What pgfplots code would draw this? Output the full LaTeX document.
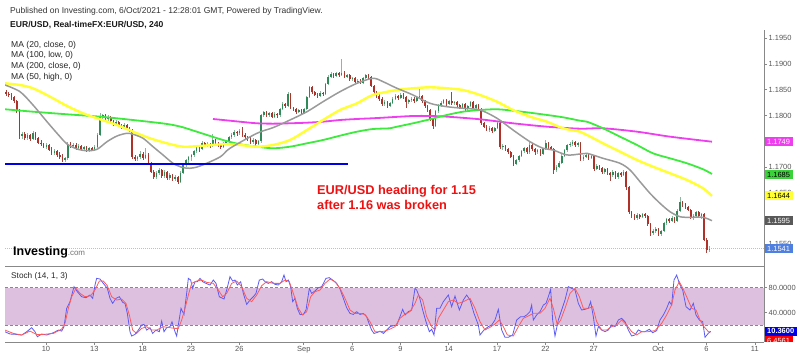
\documentclass[border=0pt]{standalone}
\usepackage{fontspec}
\setmainfont{Liberation Sans}
\usepackage{pgfplots}
\usepackage{pgfplotstable}
\pgfplotsset{compat=1.18}
\definecolor{upbody}{HTML}{2E8B57}
\definecolor{upwick}{HTML}{8DB89D}
\definecolor{dnbody}{HTML}{B0302A}
\definecolor{dnwick}{HTML}{A04640}
\definecolor{maA}{HTML}{9A9A9A}
\definecolor{maB}{HTML}{FFFF33}
\definecolor{maC}{HTML}{3FEA3F}
\definecolor{maD}{HTML}{EE3FEE}
\definecolor{axgray}{HTML}{888888}
\definecolor{lblgray}{HTML}{555555}
\definecolor{band}{HTML}{DDC0E0}
\definecolor{stk}{HTML}{5A5AF5}
\definecolor{std}{HTML}{FF5A5A}
\definecolor{lastline}{HTML}{A9C3EE}
\definecolor{lastbox}{HTML}{4F7FE0}
\definecolor{annred}{HTML}{EE1111}
\definecolor{supblue}{HTML}{0000E6}

\pgfplotstableread{
o h l c
1.1846 1.1850 1.1838 1.1842
1.1842 1.1846 1.1835 1.1839
1.1839 1.1843 1.1831 1.1835
1.1835 1.1838 1.1824 1.1828
1.1828 1.1831 1.1804 1.1808
1.1808 1.1812 1.1755 1.1760
1.1760 1.1768 1.1754 1.1764
1.1764 1.1767 1.1753 1.1757
1.1757 1.1765 1.1752 1.1762
1.1762 1.1764 1.1750 1.1754
1.1754 1.1770 1.1752 1.1766
1.1766 1.1768 1.1752 1.1756
1.1756 1.1759 1.1744 1.1747
1.1747 1.1752 1.1740 1.1744
1.1744 1.1746 1.1736 1.1739
1.1739 1.1746 1.1735 1.1742
1.1742 1.1744 1.1730 1.1733
1.1733 1.1738 1.1724 1.1727
1.1727 1.1735 1.1723 1.1731
1.1731 1.1733 1.1720 1.1723
1.1723 1.1728 1.1716 1.1720
1.1720 1.1726 1.1710 1.1714
1.1714 1.1720 1.1709 1.1717
1.1717 1.1748 1.1714 1.1744
1.1744 1.1749 1.1737 1.1740
1.1740 1.1747 1.1736 1.1743
1.1743 1.1746 1.1733 1.1736
1.1736 1.1744 1.1733 1.1741
1.1741 1.1743 1.1731 1.1734
1.1734 1.1741 1.1731 1.1738
1.1738 1.1740 1.1729 1.1732
1.1732 1.1739 1.1728 1.1736
1.1736 1.1738 1.1730 1.1733
1.1733 1.1742 1.1731 1.1739
1.1739 1.1766 1.1737 1.1762
1.1762 1.1805 1.1760 1.1798
1.1798 1.1803 1.1792 1.1800
1.1800 1.1802 1.1790 1.1793
1.1793 1.1800 1.1789 1.1797
1.1797 1.1799 1.1786 1.1789
1.1789 1.1792 1.1780 1.1784
1.1784 1.1791 1.1781 1.1788
1.1788 1.1790 1.1777 1.1780
1.1780 1.1784 1.1774 1.1777
1.1777 1.1785 1.1775 1.1782
1.1782 1.1784 1.1771 1.1774
1.1774 1.1778 1.1767 1.1770
1.1770 1.1773 1.1716 1.1720
1.1720 1.1724 1.1711 1.1715
1.1715 1.1722 1.1712 1.1719
1.1719 1.1730 1.1716 1.1726
1.1726 1.1728 1.1714 1.1718
1.1718 1.1736 1.1715 1.1724
1.1724 1.1727 1.1703 1.1706
1.1706 1.1709 1.1688 1.1691
1.1691 1.1694 1.1676 1.1680
1.1680 1.1692 1.1677 1.1688
1.1688 1.1697 1.1685 1.1694
1.1694 1.1696 1.1679 1.1682
1.1682 1.1693 1.1679 1.1690
1.1690 1.1692 1.1675 1.1678
1.1678 1.1688 1.1675 1.1685
1.1685 1.1687 1.1673 1.1676
1.1676 1.1684 1.1672 1.1680
1.1680 1.1682 1.1667 1.1671
1.1671 1.1692 1.1669 1.1689
1.1689 1.1706 1.1686 1.1703
1.1703 1.1716 1.1700 1.1713
1.1713 1.1722 1.1708 1.1719
1.1719 1.1726 1.1712 1.1723
1.1723 1.1733 1.1719 1.1730
1.1730 1.1742 1.1727 1.1739
1.1739 1.1741 1.1729 1.1734
1.1734 1.1750 1.1732 1.1747
1.1747 1.1749 1.1738 1.1742
1.1742 1.1748 1.1739 1.1745
1.1745 1.1747 1.1736 1.1740
1.1740 1.1764 1.1738 1.1752
1.1752 1.1755 1.1741 1.1745
1.1745 1.1748 1.1739 1.1743
1.1743 1.1746 1.1735 1.1738
1.1738 1.1748 1.1736 1.1745
1.1745 1.1753 1.1742 1.1750
1.1750 1.1761 1.1747 1.1758
1.1758 1.1765 1.1754 1.1762
1.1762 1.1771 1.1758 1.1768
1.1768 1.1770 1.1760 1.1765
1.1765 1.1774 1.1762 1.1770
1.1770 1.1778 1.1759 1.1762
1.1762 1.1765 1.1754 1.1758
1.1758 1.1761 1.1751 1.1755
1.1755 1.1758 1.1744 1.1748
1.1748 1.1756 1.1745 1.1752
1.1752 1.1754 1.1741 1.1745
1.1745 1.1753 1.1742 1.1750
1.1750 1.1803 1.1747 1.1800
1.1800 1.1809 1.1797 1.1806
1.1806 1.1808 1.1797 1.1801
1.1801 1.1807 1.1798 1.1804
1.1804 1.1806 1.1795 1.1798
1.1798 1.1806 1.1796 1.1803
1.1803 1.1805 1.1796 1.1800
1.1800 1.1815 1.1798 1.1812
1.1812 1.1827 1.1810 1.1822
1.1822 1.1824 1.1814 1.1818
1.1818 1.1846 1.1816 1.1842
1.1842 1.1844 1.1812 1.1815
1.1815 1.1817 1.1808 1.1812
1.1812 1.1814 1.1803 1.1807
1.1807 1.1813 1.1804 1.1811
1.1811 1.1813 1.1801 1.1805
1.1805 1.1814 1.1802 1.1812
1.1812 1.1838 1.1810 1.1836
1.1836 1.1858 1.1834 1.1855
1.1855 1.1857 1.1842 1.1845
1.1845 1.1848 1.1837 1.1840
1.1840 1.1843 1.1834 1.1838
1.1838 1.1847 1.1836 1.1844
1.1844 1.1846 1.1838 1.1842
1.1842 1.1864 1.1840 1.1862
1.1862 1.1878 1.1859 1.1875
1.1875 1.1884 1.1873 1.1880
1.1880 1.1882 1.1872 1.1876
1.1876 1.1885 1.1874 1.1882
1.1882 1.1884 1.1875 1.1878
1.1878 1.1909 1.1876 1.1883
1.1883 1.1886 1.1872 1.1875
1.1875 1.1880 1.1873 1.1878
1.1878 1.1880 1.1868 1.1870
1.1870 1.1875 1.1867 1.1872
1.1872 1.1874 1.1863 1.1866
1.1866 1.1871 1.1864 1.1868
1.1868 1.1870 1.1861 1.1864
1.1864 1.1875 1.1862 1.1872
1.1872 1.1881 1.1870 1.1878
1.1878 1.1880 1.1871 1.1875
1.1875 1.1877 1.1855 1.1858
1.1858 1.1860 1.1842 1.1845
1.1845 1.1848 1.1834 1.1838
1.1838 1.1841 1.1829 1.1832
1.1832 1.1835 1.1819 1.1822
1.1822 1.1830 1.1818 1.1826
1.1826 1.1828 1.1815 1.1818
1.1818 1.1827 1.1816 1.1824
1.1824 1.1835 1.1822 1.1832
1.1832 1.1841 1.1830 1.1838
1.1838 1.1840 1.1831 1.1834
1.1834 1.1843 1.1832 1.1840
1.1840 1.1843 1.1833 1.1836
1.1836 1.1838 1.1815 1.1826
1.1826 1.1833 1.1823 1.1830
1.1830 1.1835 1.1827 1.1833
1.1833 1.1835 1.1825 1.1828
1.1828 1.1837 1.1826 1.1835
1.1835 1.1853 1.1833 1.1838
1.1838 1.1840 1.1825 1.1828
1.1828 1.1830 1.1815 1.1818
1.1818 1.1820 1.1806 1.1810
1.1810 1.1812 1.1790 1.1793
1.1793 1.1796 1.1773 1.1780
1.1780 1.1810 1.1777 1.1808
1.1808 1.1823 1.1805 1.1820
1.1820 1.1828 1.1817 1.1825
1.1825 1.1832 1.1822 1.1830
1.1830 1.1833 1.1819 1.1822
1.1822 1.1830 1.1820 1.1828
1.1828 1.1846 1.1821 1.1824
1.1824 1.1829 1.1820 1.1826
1.1826 1.1828 1.1817 1.1820
1.1820 1.1823 1.1812 1.1815
1.1815 1.1825 1.1813 1.1822
1.1822 1.1824 1.1809 1.1812
1.1812 1.1821 1.1810 1.1818
1.1818 1.1829 1.1816 1.1826
1.1826 1.1828 1.1813 1.1815
1.1815 1.1823 1.1812 1.1820
1.1820 1.1822 1.1809 1.1812
1.1812 1.1815 1.1782 1.1785
1.1785 1.1788 1.1775 1.1778
1.1778 1.1781 1.1769 1.1772
1.1772 1.1779 1.1768 1.1776
1.1776 1.1778 1.1766 1.1770
1.1770 1.1778 1.1767 1.1775
1.1775 1.1788 1.1773 1.1785
1.1785 1.1788 1.1735 1.1738
1.1738 1.1744 1.1732 1.1740
1.1740 1.1742 1.1731 1.1735
1.1735 1.1737 1.1725 1.1728
1.1728 1.1731 1.1717 1.1720
1.1720 1.1723 1.1702 1.1706
1.1706 1.1716 1.1703 1.1713
1.1713 1.1724 1.1710 1.1722
1.1722 1.1733 1.1719 1.1730
1.1730 1.1739 1.1727 1.1736
1.1736 1.1738 1.1725 1.1728
1.1728 1.1748 1.1726 1.1742
1.1742 1.1745 1.1731 1.1735
1.1735 1.1737 1.1724 1.1728
1.1728 1.1735 1.1725 1.1732
1.1732 1.1734 1.1722 1.1725
1.1725 1.1737 1.1723 1.1734
1.1734 1.1752 1.1732 1.1746
1.1746 1.1748 1.1735 1.1738
1.1738 1.1741 1.1732 1.1735
1.1735 1.1737 1.1686 1.1694
1.1694 1.1703 1.1690 1.1700
1.1700 1.1711 1.1697 1.1708
1.1708 1.1725 1.1705 1.1722
1.1722 1.1735 1.1719 1.1732
1.1732 1.1745 1.1729 1.1742
1.1742 1.1749 1.1738 1.1745
1.1745 1.1752 1.1741 1.1748
1.1748 1.1750 1.1738 1.1742
1.1742 1.1749 1.1739 1.1746
1.1746 1.1748 1.1712 1.1715
1.1715 1.1723 1.1712 1.1720
1.1720 1.1727 1.1717 1.1724
1.1724 1.1726 1.1714 1.1718
1.1718 1.1725 1.1715 1.1722
1.1722 1.1724 1.1692 1.1696
1.1696 1.1705 1.1693 1.1702
1.1702 1.1704 1.1694 1.1698
1.1698 1.1700 1.1686 1.1690
1.1690 1.1698 1.1687 1.1695
1.1695 1.1697 1.1684 1.1688
1.1688 1.1690 1.1672 1.1684
1.1684 1.1693 1.1681 1.1690
1.1690 1.1692 1.1676 1.1680
1.1680 1.1691 1.1677 1.1688
1.1688 1.1690 1.1680 1.1685
1.1685 1.1693 1.1683 1.1690
1.1690 1.1692 1.1656 1.1660
1.1660 1.1663 1.1608 1.1612
1.1612 1.1614 1.1600 1.1605
1.1605 1.1608 1.1596 1.1600
1.1600 1.1610 1.1597 1.1607
1.1607 1.1609 1.1598 1.1602
1.1602 1.1611 1.1600 1.1608
1.1608 1.1610 1.1600 1.1604
1.1604 1.1606 1.1585 1.1588
1.1588 1.1590 1.1566 1.1572
1.1572 1.1580 1.1568 1.1576
1.1576 1.1584 1.1572 1.1580
1.1580 1.1582 1.1565 1.1569
1.1569 1.1578 1.1566 1.1575
1.1575 1.1592 1.1573 1.1590
1.1590 1.1600 1.1587 1.1598
1.1598 1.1600 1.1590 1.1594
1.1594 1.1604 1.1592 1.1601
1.1601 1.1603 1.1590 1.1594
1.1594 1.1618 1.1592 1.1615
1.1615 1.1641 1.1613 1.1632
1.1632 1.1634 1.1622 1.1627
1.1627 1.1629 1.1619 1.1622
1.1622 1.1624 1.1614 1.1617
1.1617 1.1619 1.1598 1.1601
1.1601 1.1608 1.1597 1.1605
1.1605 1.1614 1.1603 1.1612
1.1612 1.1614 1.1600 1.1604
1.1604 1.1611 1.1598 1.1608
1.1608 1.1610 1.1556 1.1558
1.1558 1.1561 1.1533 1.1538
1.1538 1.1546 1.1535 1.1541
}\candles

\begin{document}
\begin{tikzpicture}
\useasboundingbox (0,0) rectangle (800bp,357bp);

% ---------- header texts ----------
\node[anchor=west, inner sep=0, font=\fontsize{8.55}{10}\selectfont, text=black!80] at (10bp,346bp) {Published on Investing.com, 6/Oct/2021 - 12:28:01 GMT, Powered by TradingView.};
\node[anchor=west, inner sep=0, font=\bfseries\fontsize{8.6}{10}\selectfont, text=black!90] at (10bp,332bp) {EUR/USD, Real-timeFX:EUR/USD, 240};
\node[anchor=west, inner sep=0, font=\fontsize{8.6}{10}\selectfont, text=black!85] at (11bp,312bp) {MA (20, close, 0)};
\node[anchor=west, inner sep=0, font=\fontsize{8.6}{10}\selectfont, text=black!85] at (11bp,301.3bp) {MA (100, low, 0)};
\node[anchor=west, inner sep=0, font=\fontsize{8.6}{10}\selectfont, text=black!85] at (11bp,290.7bp) {MA (200, close, 0)};
\node[anchor=west, inner sep=0, font=\fontsize{8.6}{10}\selectfont, text=black!85] at (11bp,280bp) {MA (50, high, 0)};

% ---------- main price panel ----------
\begin{axis}[
  at={(5bp,91bp)}, anchor=south west, scale only axis,
  width=759bp, height=236bp,
  xmin=-2.545, xmax=44.569, ymin=1.15072, ymax=1.19663,
  axis x line=none, axis y line*=right,
  axis line style={draw=axgray, line width=0.8bp},
  ytick={1.155,1.165,1.17,1.18,1.185,1.19,1.195},
  extra y ticks={1.16,1.175}, extra y tick labels={},
  scaled y ticks=false,
  /pgf/number format/assume math mode=true,
  yticklabel style={font=\fontsize{7.5}{9}\selectfont, text=lblgray, inner sep=1.5bp,
     /pgf/number format/fixed, /pgf/number format/fixed zerofill, /pgf/number format/precision=4},
  tick align=outside, major tick length=3bp, tick style={draw=axgray, line width=0.6bp},
  clip mode=individual,
]
% last price dotted line
\addplot[lastline, line width=1bp, dash pattern=on 1bp off 1bp, forget plot] coordinates {(-2.545,1.1541) (44.569,1.1541)};

% wicks
\addplot[draw=none, mark=none, forget plot,
  restrict expr to domain={\thisrow{c}-\thisrow{o}}{0:1},
  error bars/.cd, y dir=both, y explicit, error mark=none,
  error bar style={draw=upwick, line width=0.7bp}]
  table[x expr=\coordindex/6-2.48, y=c, y error plus expr=\thisrow{h}-\thisrow{c}, y error minus expr=\thisrow{c}-\thisrow{l}] {\candles};
\addplot[draw=none, mark=none, forget plot,
  restrict expr to domain={\thisrow{c}-\thisrow{o}}{-1:0},
  error bars/.cd, y dir=both, y explicit, error mark=none,
  error bar style={draw=dnwick, line width=0.7bp}]
  table[x expr=\coordindex/6-2.48, y=c, y error plus expr=\thisrow{h}-\thisrow{c}, y error minus expr=\thisrow{c}-\thisrow{l}] {\candles};
% bodies
\addplot[draw=none, mark=none, forget plot,
  restrict expr to domain={\thisrow{c}-\thisrow{o}}{0:1},
  error bars/.cd, y dir=minus, y explicit, error mark=none,
  error bar style={draw=upbody, line width=1.6bp}]
  table[x expr=\coordindex/6-2.48, y=c, y error minus expr=\thisrow{c}-\thisrow{o}] {\candles};
\addplot[draw=none, mark=none, forget plot,
  restrict expr to domain={\thisrow{c}-\thisrow{o}}{-1:0},
  error bars/.cd, y dir=plus, y explicit, error mark=none,
  error bar style={draw=dnbody, line width=1.6bp}]
  table[x expr=\coordindex/6-2.48, y=c, y error plus expr=\thisrow{o}-\thisrow{c}] {\candles};

% MA 200 close (magenta)
\addplot[maD, line width=1.8bp, smooth, tension=0.5] coordinates {
(10.366,1.17932) (12.042,1.17879) (13.098,1.17848) (14.091,1.17841) (15.146,1.17848) (16.201,1.17860) (17.194,1.17879) (18.250,1.17912) (19.305,1.17932) (20.298,1.17946) (21.353,1.17965) (22.781,1.17990) (23.836,1.17990) (24.891,1.17977) (26.940,1.17926) (28.988,1.17848) (31.099,1.17782) (33.147,1.17743) (34.575,1.17751) (36.685,1.17685) (38.734,1.17588) (41.341,1.17490)};
% MA 100 low (green)
\addplot[maC, line width=1.8bp, smooth, tension=0.5] coordinates {
(-2.545,1.18121) (-0.807,1.18074) (1.304,1.18023) (3.352,1.17977) (5.400,1.17912) (7.511,1.17835) (8.504,1.17771) (8.939,1.17727) (9.994,1.17621) (10.987,1.17523) (12.042,1.17440) (13.098,1.17393) (14.091,1.17362) (15.146,1.17393) (16.201,1.17459) (17.194,1.17523) (18.250,1.17607) (19.305,1.17685) (20.298,1.17737) (21.353,1.17751) (21.788,1.17782) (22.781,1.17848) (23.836,1.17926) (24.891,1.18010) (25.885,1.18074) (26.940,1.18107) (27.995,1.18121) (28.988,1.18093) (30.043,1.18054) (31.099,1.18010) (32.092,1.17965) (33.147,1.17899) (33.582,1.17879) (34.575,1.17751) (35.630,1.17588) (36.685,1.17426) (37.679,1.17264) (38.734,1.17167) (39.789,1.17070) (40.782,1.16954) (41.341,1.16862)};
% MA 50 high (yellow)
\addplot[maB, line width=2.4bp, smooth, tension=0.5] coordinates {
(-2.545,1.18626) (-1.614,1.18593) (-0.807,1.18529) (0.248,1.18366) (1.304,1.18185) (2.297,1.18043) (3.352,1.17926) (4.407,1.17815) (5.400,1.17685) (6.456,1.17557) (7.511,1.17459) (8.504,1.17393) (9.559,1.17407) (10.987,1.17440) (12.042,1.17426) (13.098,1.17393) (14.091,1.17426) (15.146,1.17523) (16.201,1.17718) (17.194,1.17912) (18.250,1.18107) (19.305,1.18237) (20.298,1.18399) (21.788,1.18496) (22.781,1.18529) (23.836,1.18549) (24.891,1.18529) (25.885,1.18496) (26.940,1.18399) (27.995,1.18268) (28.988,1.18107) (30.043,1.17977) (31.099,1.17879) (32.092,1.17751) (33.147,1.17685) (33.582,1.17621) (34.575,1.17459) (35.630,1.17296) (36.685,1.17134) (37.679,1.17004) (38.734,1.16876) (39.789,1.16745) (40.782,1.16584) (41.341,1.16434)};
% MA 20 close (gray)
\addplot[maA, line width=1.5bp, smooth, tension=0.5] coordinates {
(-2.545,1.18593) (-1.614,1.18463) (-0.807,1.18204) (0.062,1.17879) (0.869,1.17588) (1.304,1.17446) (1.924,1.17348) (2.545,1.17315) (3.166,1.17342) (3.787,1.17490) (4.407,1.17601) (5.028,1.17654) (5.400,1.17634) (6.021,1.17557) (6.642,1.17393) (7.263,1.17232) (7.883,1.17070) (8.442,1.16992) (8.939,1.16973) (9.559,1.17017) (10.801,1.17193) (11.421,1.17362) (13.098,1.17654) (14.091,1.17763) (15.146,1.17912) (16.201,1.18074) (17.194,1.18268) (18.250,1.18463) (19.305,1.18626) (20.298,1.18724) (20.919,1.18658) (21.353,1.18593) (21.788,1.18529) (22.781,1.18399) (23.836,1.18237) (24.891,1.18171) (25.885,1.18140) (26.940,1.18107) (27.995,1.17946) (28.988,1.17718) (30.043,1.17490) (30.850,1.17362) (31.471,1.17329) (32.340,1.17232) (33.147,1.17251) (33.582,1.17264) (34.575,1.17167) (35.630,1.17070) (36.251,1.16940) (36.872,1.16712) (37.492,1.16486) (38.113,1.16292) (38.734,1.16128) (39.354,1.16031) (39.975,1.16019) (40.782,1.16019) (41.341,1.15953)};
% support line
\addplot[supblue, line width=2.2bp] coordinates {(-2.545,1.1705) (18.75,1.1705)};

\draw[axgray, line width=0.8bp] (rel axis cs:0,0) -- (rel axis cs:1,0);

\coordinate (bD) at (axis cs:44.569,1.1749);
\coordinate (bC) at (axis cs:44.569,1.1685);
\coordinate (bB) at (axis cs:44.569,1.1644);
\coordinate (bA) at (axis cs:44.569,1.1595);
\coordinate (bL) at (axis cs:44.569,1.1541);
\end{axis}

% annotation and logo
\node[anchor=west, inner sep=0, align=left, text=annred, font=\bfseries\fontsize{12.8}{15}\selectfont] at (317bp,159.5bp) {EUR/USD heading for 1.15\\after 1.16 was broken};
\node[anchor=west, inner sep=0, font=\bfseries\fontsize{12.5}{13}\selectfont] at (13bp,105bp) {Investing\fontsize{8}{9}\selectfont\mdseries\textcolor{black!55}{.com}};

% price boxes
\tikzset{pbox/.style={anchor=west, xshift=0.5bp, inner xsep=2.5bp, inner ysep=0bp, minimum height=9bp, font=\fontsize{7.5}{9}\selectfont}}
\node[pbox, fill=maD, text=white] at (bD) {1.1749};
\node[pbox, fill=maC!90!black, text=black] at (bC) {1.1685};
\node[pbox, fill=maB, text=black] at (bB) {1.1644};
\node[pbox, fill=black!65, text=white] at (bA) {1.1595};
\node[pbox, fill=lastbox, text=white] at (bL) {1.1541};

% ---------- stochastic panel ----------
\begin{axis}[
  at={(5bp,15bp)}, anchor=south west, scale only axis,
  width=759bp, height=76bp,
  xmin=-2.545, xmax=44.569, ymin=-6.6, ymax=114.6,
  axis x line*=bottom, axis y line*=right,
  axis line style={draw=axgray, line width=0.8bp},
  xtick={0,3,6,9,12,16,19,22,25,28,31,34,38,41,44},
  xticklabels={10,13,18,23,26,Sep,6,9,14,17,22,27,Oct,6,11},
  ytick={40,80},
  /pgf/number format/assume math mode=true,
  yticklabel style={font=\fontsize{7.5}{9}\selectfont, text=lblgray, inner sep=1.5bp,
     /pgf/number format/fixed, /pgf/number format/fixed zerofill, /pgf/number format/precision=4},
  xticklabel style={font=\fontsize{7.5}{9}\selectfont, text=lblgray, inner sep=1.5bp},
  tick align=outside, major tick length=3bp, tick style={draw=axgray, line width=0.6bp},
  clip mode=individual,
]
\fill[band] (axis cs:-2.545,20) rectangle (axis cs:44.569,80);
\draw[axgray, line width=0.7bp, dash pattern=on 3bp off 2bp] (axis cs:-2.545,20) -- (axis cs:44.569,20);
\draw[axgray, line width=0.7bp, dash pattern=on 3bp off 2bp] (axis cs:-2.545,80) -- (axis cs:44.569,80);
\draw[axgray, line width=0.8bp] (rel axis cs:0,1) -- (rel axis cs:1,1);

% %K
\addplot[stk, line width=0.8bp] coordinates {
(-2.545,9.8) (-2.235,6.1) (-1.821,5.5) (-1.510,4.5) (-1.200,9.8) (-0.890,16.2) (-0.683,9.8) (-0.538,1.8) (-0.269,6.1) (0.041,4.5) (0.455,8.2) (0.766,12.4) (0.972,10.8) (1.117,17.8) (1.283,47.0) (1.490,57.7) (1.738,81.6) (1.945,73.6) (2.214,65.6) (2.483,64.0) (2.731,68.3) (2.897,63.0) (3.042,84.3) (3.145,94.9) (3.352,93.8) (3.559,86.9) (3.807,78.9) (3.973,63.0) (4.138,55.0) (4.345,63.0) (4.552,65.6) (4.759,56.6) (4.904,55.0) (5.049,39.0) (5.214,9.8) (5.318,2.9) (5.524,5.5) (5.731,12.4) (5.938,20.4) (6.083,21.5) (6.249,12.4) (6.456,16.2) (6.621,7.1) (6.828,12.4) (7.035,9.8) (7.180,26.8) (7.325,9.8) (7.490,16.2) (7.697,17.8) (7.821,25.7) (8.007,9.8) (8.111,2.9) (8.214,20.4) (8.380,47.0) (8.566,37.4) (8.732,71.0) (8.835,94.9) (8.980,92.2) (9.104,78.9) (9.249,89.6) (9.394,89.6) (9.559,94.9) (9.725,89.6) (9.932,86.9) (10.180,84.3) (10.387,92.2) (10.553,86.9) (10.759,65.6) (11.049,61.9) (11.215,76.3) (11.421,97.6) (11.587,90.6) (11.732,92.2) (11.877,84.3) (12.084,89.6) (12.249,71.0) (12.456,53.4) (12.663,60.3) (12.870,65.6) (13.035,71.0) (13.242,92.2) (13.449,93.8) (13.594,89.6) (13.801,86.9) (14.008,89.6) (14.215,85.3) (14.422,84.3) (14.629,89.6) (14.773,100.2) (14.898,89.6) (15.042,92.2) (15.187,81.6) (15.311,57.7) (15.456,63.0) (15.601,47.0) (15.767,37.4) (15.974,37.4) (16.139,44.4) (16.346,78.9) (16.491,71.0) (16.636,73.6) (16.760,76.3) (16.905,80.0) (17.112,81.6) (17.381,94.9) (17.587,96.0) (17.794,92.2) (18.043,86.9) (18.250,77.9) (18.457,63.0) (18.663,48.1) (18.870,39.0) (19.077,37.4) (19.284,41.7) (19.491,37.4) (19.698,39.0) (19.905,33.7) (20.070,21.5) (20.215,12.4) (20.360,7.1) (20.567,8.7) (20.733,10.8) (20.939,7.1) (21.146,12.4) (21.353,17.8) (21.560,19.4) (21.767,20.4) (21.974,33.8) (22.139,45.5) (22.284,36.5) (22.491,41.8) (22.698,44.4) (22.905,78.9) (23.008,76.3) (23.174,65.7) (23.381,44.4) (23.588,25.8) (23.795,9.9) (23.939,13.6) (24.084,4.6) (24.250,47.1) (24.457,47.1) (24.664,57.7) (24.974,68.3) (25.181,49.7) (25.388,66.7) (25.657,44.4) (25.905,60.4) (26.112,68.3) (26.319,60.4) (26.567,39.1) (26.836,20.5) (26.940,4.6) (27.188,12.6) (27.457,17.9) (27.664,20.5) (27.871,28.5) (28.078,45.5) (28.181,28.5) (28.285,12.6) (28.492,0.9) (28.699,0.9) (28.967,4.6) (29.216,28.5) (29.464,33.8) (29.671,33.8) (29.836,36.5) (30.043,41.8) (30.147,52.4) (30.250,28.5) (30.457,36.5) (30.664,41.8) (30.871,52.4) (31.037,55.0) (31.182,65.7) (31.326,77.3) (31.450,28.5) (31.595,3.0) (31.802,28.5) (32.009,44.4) (32.216,60.4) (32.423,81.6) (32.630,78.9) (32.837,76.3) (33.044,55.0) (33.251,44.4) (33.458,45.5) (33.664,47.1) (33.809,57.7) (33.975,33.8) (34.140,3.0) (34.285,17.9) (34.492,12.6) (34.699,9.9) (34.906,12.6) (35.113,20.5) (35.320,17.9) (35.527,28.5) (35.733,31.1) (35.940,25.8) (36.147,12.6) (36.354,3.0) (36.561,4.6) (36.768,12.6) (36.975,9.9) (37.182,9.9) (37.451,13.6) (37.658,8.3) (37.906,11.5) (38.113,28.5) (38.320,36.5) (38.527,47.1) (38.693,57.7) (38.837,52.4) (38.982,92.2) (39.148,100.2) (39.313,86.9) (39.520,76.3) (39.727,49.7) (39.975,44.4) (40.182,55.0) (40.348,36.5) (40.555,28.5) (40.762,25.8) (40.907,0.9) (41.113,7.3) (41.258,10.36)};
% %D
\addplot[std, line width=0.8bp] coordinates {
(-2.545,12.4) (-2.028,7.1) (-1.510,4.5) (-0.993,10.8) (-0.579,5.5) (-0.166,5.5) (0.455,7.1) (0.972,14.0) (1.179,23.1) (1.386,47.0) (1.593,65.6) (1.862,78.9) (2.110,71.0) (2.421,65.6) (2.773,67.2) (3.042,76.3) (3.311,90.6) (3.559,90.6) (3.807,83.2) (4.076,65.6) (4.386,60.3) (4.697,61.9) (4.966,55.0) (5.173,36.4) (5.380,12.4) (5.628,7.1) (5.938,15.1) (6.249,17.8) (6.559,12.4) (6.869,12.4) (7.283,17.8) (7.697,16.2) (8.007,15.1) (8.214,15.1) (8.421,28.4) (8.628,47.0) (8.835,68.3) (9.042,86.9) (9.352,90.6) (9.663,92.2) (9.973,88.5) (10.387,86.9) (10.697,76.3) (10.966,65.6) (11.215,71.0) (11.525,86.9) (11.835,90.6) (12.146,81.6) (12.456,63.0) (12.766,57.7) (13.077,68.3) (13.387,83.2) (13.697,89.6) (14.111,86.9) (14.525,86.9) (14.836,92.2) (15.104,89.6) (15.353,71.0) (15.663,47.0) (15.932,36.4) (16.180,41.7) (16.429,65.6) (16.698,73.6) (17.008,76.3) (17.318,86.9) (17.629,93.8) (17.939,89.6) (18.250,78.9) (18.560,63.0) (18.870,44.4) (19.181,39.0) (19.491,39.0) (19.801,37.4) (20.112,25.7) (20.422,9.8) (20.733,9.8) (21.043,10.8) (21.353,14.0) (21.663,17.8) (21.974,31.1) (22.284,38.0) (22.595,41.8) (22.905,55.0) (23.112,68.3) (23.381,60.4) (23.629,33.8) (23.939,17.9) (24.146,12.6) (24.353,31.1) (24.664,44.4) (24.974,57.7) (25.285,60.4) (25.595,55.0) (25.905,57.7) (26.319,63.0) (26.629,47.1) (26.940,25.8) (27.250,12.6) (27.561,16.8) (27.871,22.1) (28.140,28.5) (28.388,17.9) (28.637,4.6) (29.009,3.0) (29.319,17.9) (29.629,31.1) (29.940,34.9) (30.250,39.1) (30.664,39.1) (30.975,47.1) (31.285,63.0) (31.492,47.1) (31.740,20.5) (31.947,28.5) (32.216,47.1) (32.526,71.0) (32.837,78.9) (33.106,65.7) (33.354,47.1) (33.664,47.1) (33.933,49.7) (34.181,25.8) (34.492,12.6) (34.802,12.6) (35.113,17.9) (35.423,20.5) (35.733,28.5) (36.044,20.5) (36.354,9.9) (36.665,4.6) (36.975,9.9) (37.389,9.9) (37.803,11.5) (38.216,23.2) (38.527,36.5) (38.837,52.4) (39.044,76.3) (39.313,89.6) (39.562,77.3) (39.810,63.0) (40.079,47.1) (40.348,44.4) (40.596,28.5) (40.845,17.9) (41.113,9.9) (41.258,9.4)};

\coordinate (sK) at (axis cs:44.569,10.36);
\coordinate (sD) at (axis cs:44.569,-4.5);
\coordinate (sClipA) at (rel axis cs:1,0);
\end{axis}

\node[anchor=west, inner sep=0, font=\fontsize{8.3}{10}\selectfont, text=black!85] at (11bp,80.3bp) {Stoch (14, 1, 3)};
\node[pbox, fill=supblue, text=white, font=\bfseries\fontsize{7.5}{9}\selectfont] at (sK) {10.3600};
\begin{scope}
\clip (sClipA) rectangle ([xshift=40bp,yshift=40bp]sClipA);
\node[pbox, fill=red, text=white] at (sD) {6.4561};
\end{scope}
\end{tikzpicture}
\end{document}
